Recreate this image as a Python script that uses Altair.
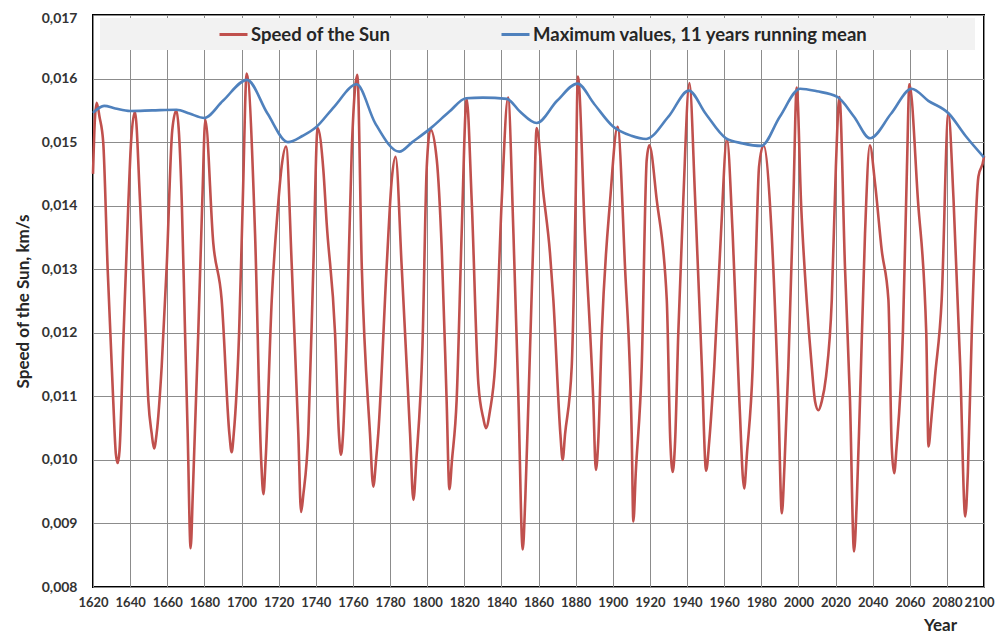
import altair as alt
import pandas as pd

# ---- data ----
red_years = [
    1620.0, 1621.0, 1622.0, 1623.5, 1625.5, 1627.9, 1630.8, 1632.3, 1633.3, 1634.3,
    1636.5, 1639.0, 1640.5, 1642.6, 1645.3, 1648.0, 1649.8, 1651.6, 1652.9, 1654.3,
    1657.0, 1659.7, 1662.7, 1664.9, 1667.8, 1669.6, 1671.0, 1672.6, 1673.8, 1676.7,
    1678.9, 1680.5, 1684.8, 1689.3, 1693.5, 1694.7, 1695.8, 1698.7, 1700.7, 1702.8,
    1707.3, 1710.6, 1711.8, 1713.0, 1716.3, 1719.5, 1721.6, 1724.0, 1727.1, 1730.6,
    1732.1, 1733.3, 1736.0, 1738.7, 1741.0, 1744.1, 1745.9, 1750.4, 1752.5, 1753.6,
    1754.7, 1756.7, 1759.4, 1762.4, 1764.8, 1769.2, 1771.0, 1772.5, 1773.7, 1778.2,
    1781.0, 1783.0, 1786.3, 1790.8, 1792.6, 1794.2, 1797.5, 1799.8, 1801.8, 1805.2,
    1807.9, 1810.5, 1812.0, 1813.4, 1815.9, 1818.6, 1821.3, 1824.0, 1827.6, 1830.3,
    1831.7, 1833.9, 1836.6, 1840.2, 1843.6, 1846.5, 1849.2, 1851.5, 1852.9, 1854.6,
    1857.3, 1859.0, 1862.6, 1866.2, 1868.0, 1871.8, 1873.0, 1874.3, 1877.9, 1880.0,
    1881.2, 1885.0, 1889.5, 1890.9, 1892.2, 1894.1, 1898.6, 1902.6, 1906.6, 1910.2,
    1911.1, 1912.4, 1915.6, 1918.3, 1919.7, 1923.7, 1929.1, 1931.0, 1932.3, 1933.6,
    1935.3, 1938.0, 1941.3, 1944.4, 1948.0, 1950.3, 1952.0, 1954.7, 1958.3, 1961.5,
    1964.6, 1968.2, 1970.8, 1972.3, 1975.4, 1977.5, 1978.8, 1981.2, 1985.6, 1989.2,
    1991.1, 1992.5, 1994.6, 1997.3, 1999.1, 2001.5, 2004.5, 2007.2, 2009.0, 2010.8,
    2012.6, 2014.9, 2018.0, 2020.2, 2022.1, 2025.1, 2027.8, 2030.0, 2031.4, 2033.2,
    2035.9, 2038.5, 2041.3, 2044.9, 2048.5, 2050.3, 2051.6, 2052.9, 2056.3, 2058.5,
    2059.8, 2064.4, 2068.9, 2070.1, 2071.5, 2073.6, 2077.2, 2080.8, 2083.6, 2087.2,
    2089.9, 2091.3, 2093.4, 2097.0, 2099.7, 2100.0,
]
red_values = [
    0.01450, 0.01535, 0.01562, 0.01540, 0.01500, 0.01300, 0.01100, 0.01010, 0.00995, 0.01015,
    0.01200, 0.01400, 0.01500, 0.01548, 0.01409, 0.01225, 0.01094, 0.01042, 0.01018, 0.01042,
    0.01147, 0.01304, 0.01519, 0.01550, 0.01409, 0.01199, 0.01042, 0.00861, 0.00950, 0.01199,
    0.01409, 0.01535, 0.01341, 0.01252, 0.01040, 0.01012, 0.01040, 0.01199, 0.01409, 0.01608,
    0.01356, 0.01000, 0.00946, 0.01000, 0.01252, 0.01393, 0.01461, 0.01493, 0.01304, 0.01042,
    0.00918, 0.00945, 0.01042, 0.01304, 0.01522, 0.01456, 0.01372, 0.01199, 0.01040, 0.01008,
    0.01040, 0.01199, 0.01488, 0.01606, 0.01304, 0.01042, 0.00958, 0.01000, 0.01042, 0.01304,
    0.01443, 0.01477, 0.01304, 0.01042, 0.00937, 0.01000, 0.01180, 0.01461, 0.01520, 0.01472,
    0.01330, 0.01094, 0.00954, 0.01000, 0.01094, 0.01356, 0.01568, 0.01409, 0.01120, 0.01065,
    0.01050, 0.01078, 0.01147, 0.01409, 0.01570, 0.01356, 0.01094, 0.00859, 0.00940, 0.01094,
    0.01356, 0.01522, 0.01420, 0.01325, 0.01252, 0.01040, 0.01000, 0.01040, 0.01147, 0.01409,
    0.01603, 0.01356, 0.01094, 0.00984, 0.01030, 0.01199, 0.01409, 0.01524, 0.01304, 0.01042,
    0.00903, 0.00980, 0.01147, 0.01472, 0.01495, 0.01409, 0.01252, 0.01030, 0.00981, 0.01030,
    0.01199, 0.01409, 0.01593, 0.01409, 0.01147, 0.00983, 0.01030, 0.01147, 0.01356, 0.01505,
    0.01356, 0.01094, 0.00955, 0.01010, 0.01147, 0.01356, 0.01461, 0.01495, 0.01356, 0.01094,
    0.00916, 0.00990, 0.01147, 0.01409, 0.01586, 0.01400, 0.01250, 0.01147, 0.01092, 0.01078,
    0.01092, 0.01131, 0.01252, 0.01461, 0.01571, 0.01304, 0.01094, 0.00856, 0.00930, 0.01094,
    0.01356, 0.01495, 0.01435, 0.01330, 0.01252, 0.01020, 0.00979, 0.01020, 0.01199, 0.01461,
    0.01591, 0.01409, 0.01199, 0.01021, 0.01060, 0.01131, 0.01252, 0.01545, 0.01409, 0.01147,
    0.00911, 0.00980, 0.01199, 0.01446, 0.01472, 0.01478,
]

blue_years = [
    1620, 1626, 1632, 1640, 1652, 1665, 1672, 1680, 1690, 1703,
    1714, 1725, 1733, 1740, 1750, 1762, 1772, 1785, 1792, 1802,
    1812, 1821, 1830, 1843, 1850, 1859, 1870, 1881, 1890, 1900,
    1910, 1918, 1930, 1941, 1950, 1961, 1970, 1980, 1990, 2001,
    2010, 2021, 2030, 2038.6, 2050, 2061, 2070, 2081, 2090, 2100,
]
blue_values = [
    0.01546, 0.01557, 0.01553, 0.01549, 0.01550, 0.01551, 0.01545, 0.01538, 0.01565, 0.01598,
    0.01545, 0.01500, 0.01510, 0.01523, 0.01556, 0.01591, 0.01530, 0.01485, 0.01500, 0.01522,
    0.01548, 0.01569, 0.01570, 0.01568, 0.01548, 0.01530, 0.01565, 0.01592, 0.01560, 0.01525,
    0.01510, 0.01505, 0.01540, 0.01581, 0.01545, 0.01506, 0.01498, 0.01494, 0.01540, 0.01584,
    0.01580, 0.01571, 0.01540, 0.01506, 0.01545, 0.01584, 0.01565, 0.01545, 0.01510, 0.01476,
]

series_names = ["Speed of the Sun", "Maximum values, 11 years running mean"]
series_colors = ["#C0504D", "#4F81BD"]
x_ticks = [1620, 1640, 1660, 1680, 1700, 1720, 1740, 1760, 1780, 1800, 1820, 1840, 1860,
           1880, 1900, 1920, 1940, 1960, 1980, 2000, 2020, 2040, 2060, 2080, 2100]
y_ticks = [0.008, 0.009, 0.010, 0.011, 0.012, 0.013, 0.014, 0.015, 0.016, 0.017]

red_df = pd.DataFrame({"year": red_years, "speed": red_values, "series": series_names[0]})
blue_df = pd.DataFrame({"year": blue_years, "speed": blue_values, "series": series_names[1]})

FONT = "Lato"

x_enc = alt.X(
    "year:Q",
    scale=alt.Scale(domain=[1620, 2100], nice=False, zero=False),
    axis=alt.Axis(
        values=x_ticks, format="d", labelFlush=False, labelOverlap=False, labelPadding=9,
        labelOffset={"condition": {"test": "datum.value >= 2100", "value": -5}, "value": 0},
        title="Year", titleX=847, titleY=30, titleAlign="center", titleBaseline="top",
        titleFontSize=17,
    ),
)
y_enc = alt.Y(
    "speed:Q",
    scale=alt.Scale(domain=[0.008, 0.017], nice=False, zero=False),
    axis=alt.Axis(
        values=y_ticks, labelExpr="replace(format(datum.value, '.3f'), '.', ',')",
        labelOffset={"condition": {"test": "datum.value >= 0.0169", "value": 3}, "value": 0},
        labelFlush=False, labelPadding=16, labelFontSize=14, title="Speed of the Sun, km/s",
        titleFontSize=17, titlePadding=9,
    ),
)
color_enc = alt.Color(
    "series:N",
    scale=alt.Scale(domain=series_names, range=series_colors),
    legend=alt.Legend(
        title=None, orient="none", legendX=125, legendY=4, direction="horizontal",
        symbolType="stroke", symbolStrokeWidth=3, symbolSize=784,
        labelFont=FONT, labelFontSize=18.5, labelFontWeight="bold", labelColor="#262626",
        labelOffset=2, columnPadding=104, labelLimit=600, padding=0,
    ),
)

band = alt.Chart(pd.DataFrame({"k": [0]})).mark_rect(fill="#f2f2f2").encode(
    x=alt.value(7), x2=alt.value(882), y=alt.value(3), y2=alt.value(35)
)

red_line = alt.Chart(red_df).mark_line(strokeWidth=2.6, interpolate="monotone").encode(
    x=x_enc, y=y_enc, color=color_enc, order="year:Q"
)
blue_line = alt.Chart(blue_df).mark_line(strokeWidth=2.6, interpolate="monotone").encode(
    x=x_enc, y=y_enc, color=color_enc, order="year:Q"
)

chart = (
    alt.layer(band, red_line, blue_line)
    .properties(
        width=891, height=572,
        autosize=alt.AutoSizeParams(type="none"),
        padding={"left": 85, "top": 7, "right": 11, "bottom": 50},
        background="white",
    )
    .configure_view(stroke="black", strokeWidth=2)
    .configure_axis(
        grid=True, gridColor="#8c8c8c", gridWidth=1, domain=False, ticks=False,
        labelFont=FONT, labelFontWeight="bold", labelFontSize=13, labelColor="#333333",
        titleFont=FONT, titleFontWeight="bold", titleColor="#262626",
    )
)

chart.save("out.html", embed_options={"renderer": "svg", "actions": False})
